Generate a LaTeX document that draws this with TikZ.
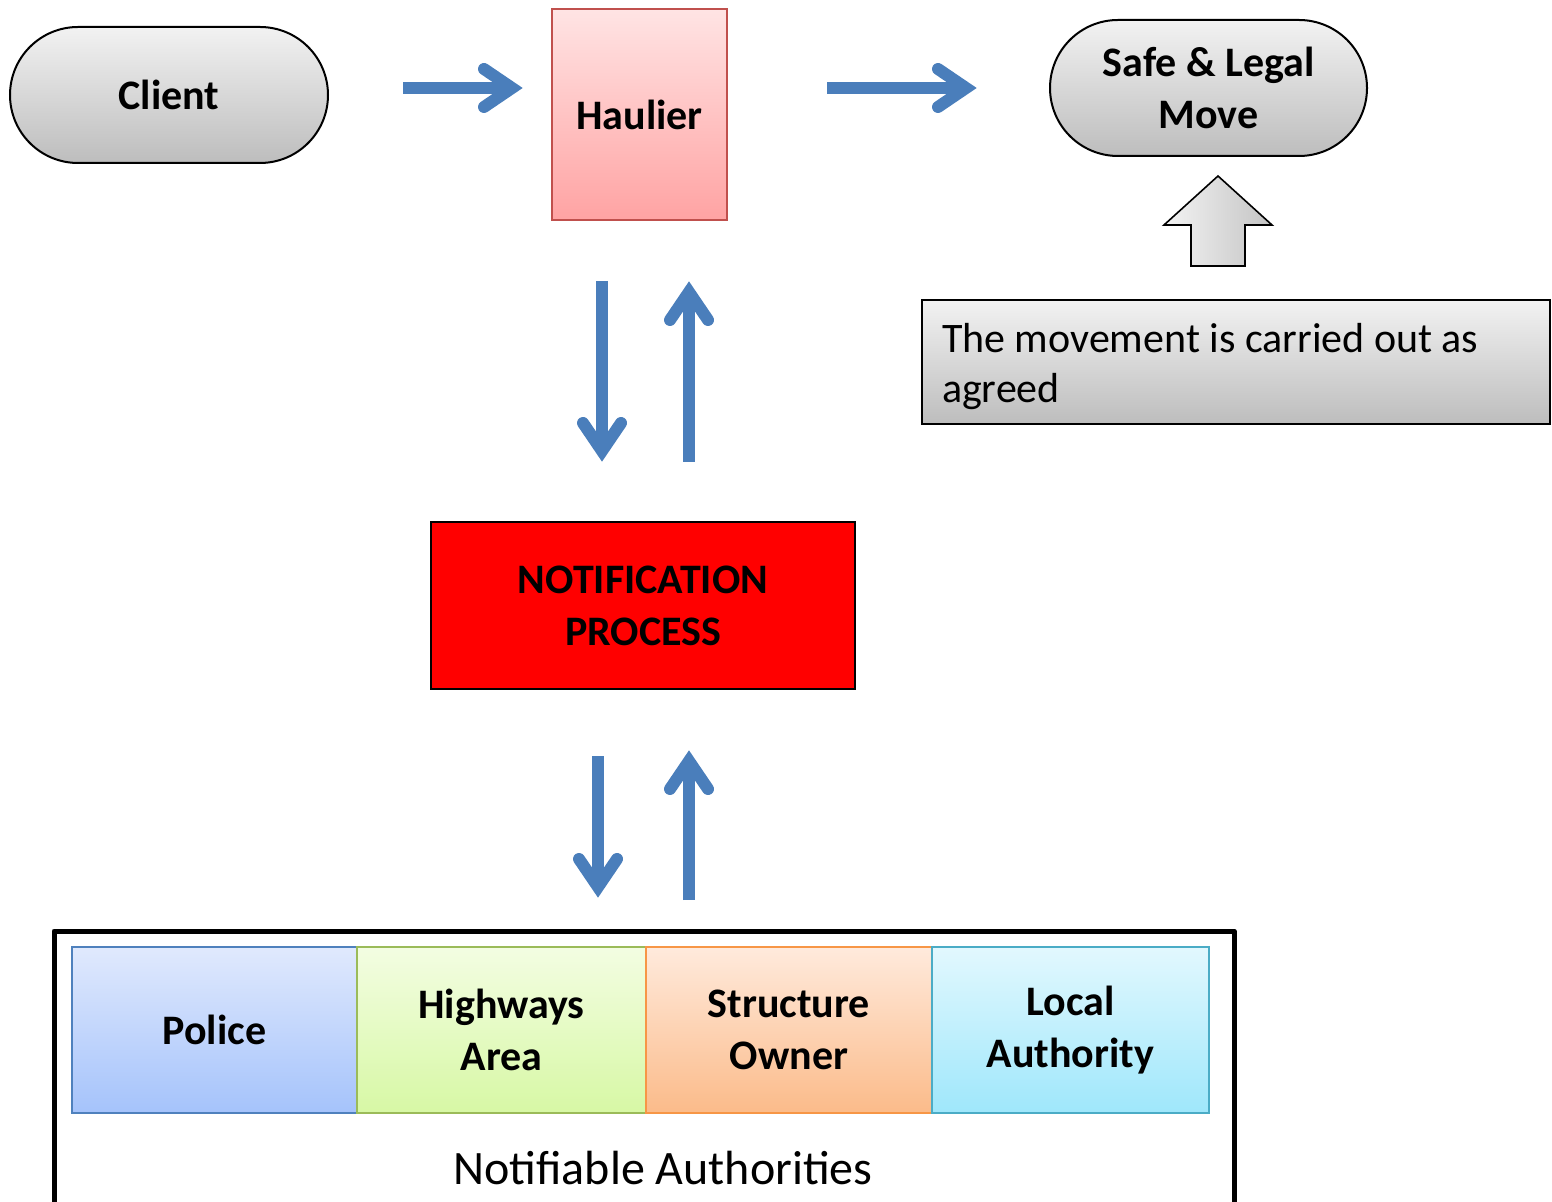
\documentclass[tikz,border=0pt]{standalone}
\usepackage{fontspec}
\setmainfont{Carlito}
\usetikzlibrary{calc}
\definecolor{arrowblue}{HTML}{4A7EBB}
\definecolor{haulline}{HTML}{C0504D}
\definecolor{haultop}{HTML}{FFE4E4}
\definecolor{haulbot}{HTML}{FFA3A3}
\definecolor{graytop}{HTML}{F2F2F2}
\definecolor{graybot}{HTML}{BDBDBD}
\definecolor{poltop}{HTML}{E0E9FD}
\definecolor{polbot}{HTML}{A5C3FB}
\definecolor{polline}{HTML}{4F81BD}
\definecolor{hwtop}{HTML}{F3FDE2}
\definecolor{hwbot}{HTML}{D7F8A5}
\definecolor{hwline}{HTML}{9BBB59}
\definecolor{sttop}{HTML}{FFEADC}
\definecolor{stbot}{HTML}{FBBB8A}
\definecolor{stline}{HTML}{F79646}
\definecolor{latop}{HTML}{E2F8FE}
\definecolor{labot}{HTML}{9FE7FB}
\definecolor{laline}{HTML}{4BACC6}
\tikzset{
  lbl/.style={font=\fontsize{21}{26}\selectfont\bfseries, align=center, text=black},
  stadium/.style={lbl, draw=black, line width=1pt, rounded corners=34pt, top color=graytop, bottom color=graybot},
  shaft/.style={draw=arrowblue, line width=6pt, line cap=butt},
  chev/.style={draw=arrowblue, line width=6pt, line cap=round, line join=miter},
  authbox/.style={lbl, line width=1pt, minimum height=83pt, inner sep=0pt},
}
\begin{document}
\begin{tikzpicture}[x=0.5pt, y=-0.5pt]
\useasboundingbox (0,0) rectangle (1552,1202);
% top row
\node[stadium, minimum width=159pt, minimum height=68pt] (client) at (169,95) {Client};
\node[lbl, draw=haulline, line width=0.8pt, top color=haultop, bottom color=haulbot,
      minimum width=87.5pt, minimum height=105.5pt] (haulier) at (639.5,114.5) {Haulier};
\node[stadium, minimum width=158.5pt, minimum height=68pt] (safe) at (1208.5,88) {Safe \& Legal\\Move};
% info box
\node[draw=black, line width=0.9pt, top color=graytop, bottom color=graybot,
      minimum width=314pt, minimum height=62pt, text width=294pt, align=flush left, inner xsep=10pt,
      font=\fontsize{21}{25}\selectfont, text height=19pt] (info) at (1236,362) {The movement is carried out as\\agreed};
% block arrow
\shade[left color=graytop!90!white, right color=graybot!90!white, draw=black, line width=0.8pt]
  (1218,176) -- (1272,225) -- (1245,225) -- (1245,266) -- (1191,266) -- (1191,225) -- (1164,225) -- cycle;
% notification
\node[lbl, draw=black, line width=0.8pt, fill=red, minimum width=212pt, minimum height=83.5pt] (notif) at (643,605.5) {NOTIFICATION\\PROCESS};
% authorities
\draw[line width=2.5pt, line join=round] (54,1210) -- (54,931) -- (1234,931) -- (1234,1210);
\node[authbox, draw=polline, top color=poltop, bottom color=polbot, minimum width=142.5pt] (police) at (214.5,1030) {Police};
\node[authbox, draw=hwline, top color=hwtop, bottom color=hwbot, minimum width=144.5pt] (highways) at (501.5,1030) {Highways\\Area};
\node[authbox, draw=stline, top color=sttop, bottom color=stbot, minimum width=143pt] (structure) at (789,1030) {Structure\\Owner};
\node[authbox, draw=laline, top color=latop, bottom color=labot, minimum width=138.5pt] (local) at (1070.5,1030) {Local\\Authority};
\node[font=\fontsize{24}{28}\selectfont] (notifiable) at (663,1168) {Notifiable Authorities};
% arrow coordinates
\coordinate (a1s) at (403,88);  \coordinate (a1v) at (512,88);
\coordinate (a2s) at (827,88);  \coordinate (a2v) at (966,88);
\coordinate (a3s) at (602,281); \coordinate (a3v) at (602,451);
\coordinate (a4s) at (689,462); \coordinate (a4v) at (689,292);
\coordinate (a5s) at (598,756); \coordinate (a5v) at (598,887);
\coordinate (a6s) at (689,900); \coordinate (a6v) at (689,761);
% horizontal arrows (right)
\foreach \s/\v in {a1s/a1v, a2s/a2v}{
  \draw[shaft] (\s) -- (\v);
  \draw[chev] ([shift={(-28,-19)}]\v) -- (\v) -- ([shift={(-28,19)}]\v);
}
% down arrows
\foreach \s/\v in {a3s/a3v, a5s/a5v}{
  \draw[shaft] (\s) -- (\v);
  \draw[chev] ([shift={(-19,-28)}]\v) -- (\v) -- ([shift={(19,-28)}]\v);
}
% up arrows
\foreach \s/\v in {a4s/a4v, a6s/a6v}{
  \draw[shaft] (\s) -- (\v);
  \draw[chev] ([shift={(-19,28)}]\v) -- (\v) -- ([shift={(19,28)}]\v);
}
\end{tikzpicture}
\end{document}
